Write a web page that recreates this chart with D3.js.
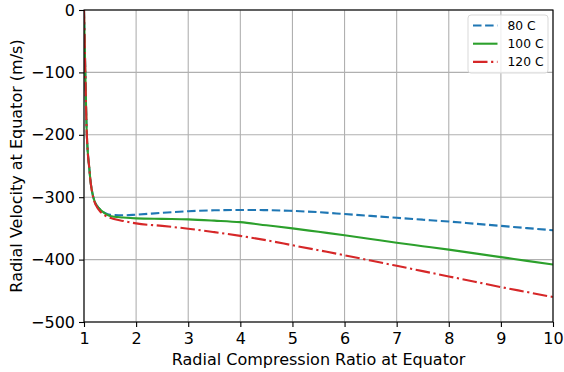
<!DOCTYPE html>
<html><head><meta charset="utf-8">
<script src="https://cdn.jsdelivr.net/npm/d3@7"></script>
<style>body{margin:0;background:#fff}text{font-family:"DejaVu Sans",sans-serif}</style>
</head><body><svg id="c" width="564" height="372"></svg>
<script>
const xVals = [1.0,1.01,1.02,1.03,1.05,1.07,1.1,1.13,1.16,1.2,1.25,1.3,1.4,1.5,1.75,2,2.5,3,3.5,4,4.5,5,5.5,6,6.5,7,7.5,8,8.5,9,9.5,10];
const v80  = [0,-40,-80,-120,-190,-225,-252,-278,-293,-306,-314,-319,-325,-328,-329,-328,-325,-322.5,-321,-320.5,-320.7,-322,-324,-327,-330,-333,-336,-339,-342.5,-346,-349.5,-353];
const v100 = [0,-40,-80,-120,-190,-225,-252,-278,-293,-306,-314,-319,-326,-330,-332.5,-334,-334.8,-335.5,-337.5,-340,-345,-350,-355.5,-361,-367,-373,-378.5,-384,-390,-396,-402,-408];
const v120 = [0,-40,-80,-120,-190,-225,-252,-278,-294,-307,-316,-322,-329,-333,-338,-342,-346,-350.5,-356,-362,-369,-377,-385,-393,-401.5,-410,-418.5,-427,-435.5,-444,-452,-460];
const seriesNames = ["80 C","100 C","120 C"];
const xTicks = [1,2,3,4,5,6,7,8,9,10];
const yTicks = [0,-100,-200,-300,-400,-500];

const svg = d3.select("#c");
const L=84, R=553, T=10, B=322;
const x = d3.scaleLinear().domain([1,10]).range([L,R]);
const y = d3.scaleLinear().domain([-500,0]).range([B,T]);
const fmt = d => d<0 ? "\u2212"+Math.abs(d) : String(d);

// grid
svg.append("g").selectAll("line").data(xTicks).join("line")
  .attr("x1",d=>x(d)).attr("x2",d=>x(d)).attr("y1",T).attr("y2",B)
  .attr("stroke","#b0b0b0").attr("stroke-width",1.1);
svg.append("g").selectAll("line").data(yTicks).join("line")
  .attr("y1",d=>y(d)).attr("y2",d=>y(d)).attr("x1",L).attr("x2",R)
  .attr("stroke","#b0b0b0").attr("stroke-width",1.1);

const series = [
  {name:seriesNames[0], vals:v80, color:"#1f77b4", dash:"8.5,3.6"},
  {name:seriesNames[1], vals:v100, color:"#2ca02c", dash:null},
  {name:seriesNames[2], vals:v120, color:"#d62728", dash:"14.5,3.6,2.2,3.6"}
];
const line = d3.line().x((d,i)=>x(xVals[i])).y(d=>y(d)).curve(d3.curveMonotoneX);
svg.append("defs").append("clipPath").attr("id","clip").append("rect")
  .attr("x",L).attr("y",T).attr("width",R-L).attr("height",B-T);
const g = svg.append("g").attr("clip-path","url(#clip)");
series.forEach(s=>{
  g.append("path").attr("d",line(s.vals)).attr("fill","none")
   .attr("stroke",s.color).attr("stroke-width",2.1)
   .attr("stroke-dasharray",s.dash);
});

// axes
const xa = svg.append("g").attr("transform",`translate(0,${B})`)
  .call(d3.axisBottom(x).tickValues(xTicks).tickSize(5).tickPadding(5.5).tickFormat(d=>d));
const ya = svg.append("g").attr("transform",`translate(${L},0)`)
  .call(d3.axisLeft(y).tickValues(yTicks).tickSize(5).tickPadding(4).tickFormat(fmt));
[xa,ya].forEach(a=>{
  a.select(".domain").remove();
  a.selectAll("line").attr("stroke","#000").attr("stroke-width",1.1);
  a.selectAll("text").attr("font-size","16px").attr("fill","#000").attr("font-family","DejaVu Sans");
});
svg.append("rect").attr("x",L).attr("y",T).attr("width",R-L).attr("height",B-T)
  .attr("fill","none").attr("stroke","#000").attr("stroke-width",1.1);

svg.append("text").attr("x",(L+R)/2).attr("y",365).attr("text-anchor","middle")
  .attr("font-size","16px").text("Radial Compression Ratio at Equator");
svg.append("text").attr("transform",`translate(22,${(T+B)/2}) rotate(-90)`).attr("text-anchor","middle")
  .attr("font-size","16px").text("Radial Velocity at Equator (m/s)");

// legend
const lg = svg.append("g");
lg.append("rect").attr("x",468).attr("y",15).attr("width",80).attr("height",58).attr("rx",3)
  .attr("fill","#fff").attr("fill-opacity",0.8).attr("stroke","#d9d9d9").attr("stroke-width",1);
series.forEach((s,i)=>{
  const yy = 25.5 + i*18.2;
  lg.append("line").attr("x1",473).attr("x2",497.5).attr("y1",yy).attr("y2",yy)
    .attr("stroke",s.color).attr("stroke-width",2.1).attr("stroke-dasharray",s.dash);
  lg.append("text").attr("x",507.5).attr("y",yy+4.5).attr("font-size","12.3px").text(s.name);
});
</script></body></html>
